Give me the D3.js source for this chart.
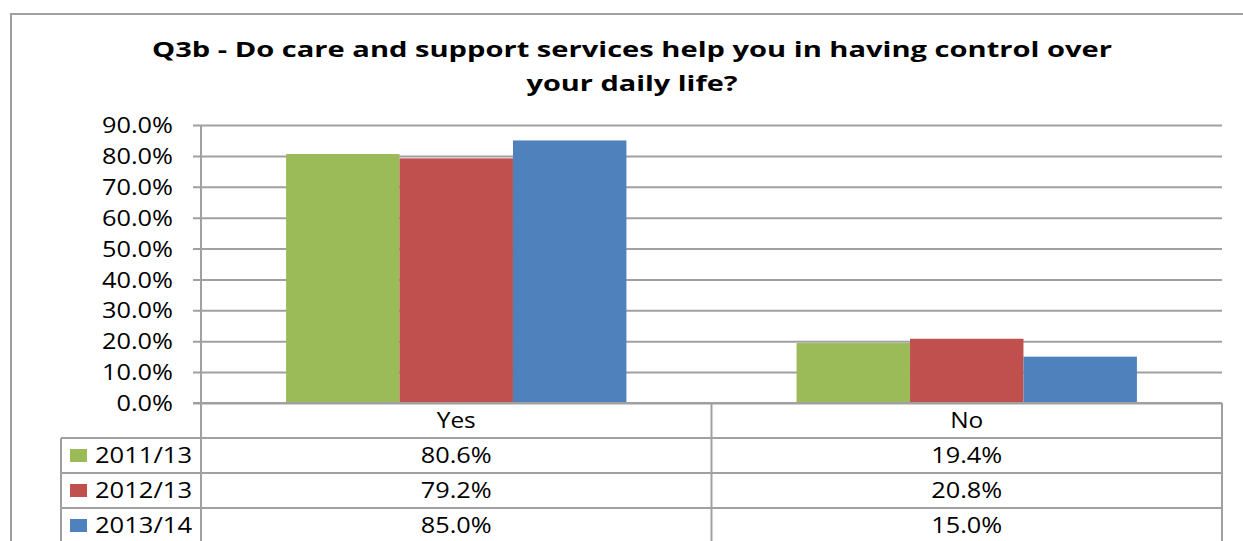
<!DOCTYPE html>
<html><head><meta charset="utf-8">
<script src="https://cdn.jsdelivr.net/npm/d3@7"></script>
<style>html,body{margin:0;padding:0;background:#fff;} svg{display:block;}</style>
</head><body>
<svg id="c" width="1243" height="541"></svg>
<script>
const categories = ["Yes", "No"];
const seriesNames = ["2011/13", "2012/13", "2013/14"];
const series2011 = [0.806, 0.194];
const series2012 = [0.792, 0.208];
const series2013 = [0.850, 0.150];
const seriesColors = ["#9BBB59", "#C0504D", "#4F81BD"];
const yTicks = [0, 0.1, 0.2, 0.3, 0.4, 0.5, 0.6, 0.7, 0.8, 0.9];
const titleLines = ["Q3b - Do care and support services help you in having control over", "your daily life?"];

const seriesValues = [series2011, series2012, series2013];
const svg = d3.select("#c");
const font = "'Open Sans', sans-serif";
const grid = "#a0a0a0";
const titleWidths = [960, 211];

// stretch a text selection horizontally so a reference string would measure refWidth
function stretch(sel, refWidth, refText) {
  const probe = svg.append("text").attr("font-family", font).attr("font-size", sel.attr("font-size"))
    .text(refText);
  const k = refWidth / probe.node().getComputedTextLength();
  probe.remove();
  sel.each(function () {
    const w = this.getComputedTextLength();
    d3.select(this).attr("textLength", w * k).attr("lengthAdjust", "spacingAndGlyphs");
  });
}

// outer chart border
svg.append("rect").attr("x", 11).attr("y", 14).attr("width", 1260).attr("height", 560)
  .attr("fill", "none").attr("stroke", grid).attr("stroke-width", 2);

// title
svg.append("g").selectAll("text").data(titleLines).join("text")
  .attr("x", 632).attr("y", (d, i) => 57 + i * 34)
  .attr("text-anchor", "middle").attr("font-family", font).attr("font-weight", "bold")
  .attr("font-size", 21).attr("fill", "#000")
  .attr("textLength", (d, i) => titleWidths[i]).attr("lengthAdjust", "spacingAndGlyphs")
  .text(d => d);

const pL = 201, pR = 1222, pT = 125, pB = 403;
const y = d3.scaleLinear().domain([0, 0.9]).range([pB, pT]);
const x = d3.scaleBand().domain(categories).range([pL, pR]).paddingInner(0).paddingOuter(0);
const groupW = x.bandwidth() * 3 / 4.5;
const x1 = d3.scaleBand().domain(d3.range(seriesNames.length)).range([0, groupW]);

// gridlines + ticks
const yAxis = d3.axisLeft(y).tickValues(yTicks).tickFormat(d3.format(".1%"))
  .tickSize(-(pR - pL)).tickSizeOuter(0).tickPadding(20);
const ga = svg.append("g").attr("transform", `translate(${pL},0)`).call(yAxis);
ga.select(".domain").remove();
ga.selectAll(".tick line").attr("stroke", grid).attr("stroke-width", 2).attr("x1", -8);
const tickTexts = ga.selectAll(".tick text").attr("font-family", font).attr("font-size", 21).attr("fill", "#000")
  .attr("x", -28).attr("dy", "0.36em");
stretch(tickTexts, 71, "90.0%");

// bars
const bars = svg.append("g");
seriesValues.forEach((vals, si) => {
  bars.selectAll(null).data(vals).join("rect")
    .attr("x", (d, i) => x(categories[i]) + (x.bandwidth() - groupW) / 2 + x1(si))
    .attr("y", d => y(d)).attr("width", x1.bandwidth()).attr("height", d => pB - y(d))
    .attr("fill", seriesColors[si]);
});

// y axis line
svg.append("line").attr("x1", pL).attr("x2", pL).attr("y1", pT).attr("y2", 560)
  .attr("stroke", grid).attr("stroke-width", 2);
// x axis line
svg.append("line").attr("x1", pL - 8).attr("x2", pR).attr("y1", pB).attr("y2", pB)
  .attr("stroke", grid).attr("stroke-width", 2);

// data table
const rowH = 35;
const tableLeft = 61;
const tbl = svg.append("g");
const rowTop = i => pB + rowH * (i + 1);
categories.forEach((c, i) => {
  if (i > 0) tbl.append("line").attr("x1", x(c)).attr("x2", x(c)).attr("y1", pB).attr("y2", 560)
    .attr("stroke", grid).attr("stroke-width", 2);
});
tbl.append("line").attr("x1", pR).attr("x2", pR).attr("y1", pB).attr("y2", 560)
  .attr("stroke", grid).attr("stroke-width", 2);
tbl.append("line").attr("x1", tableLeft).attr("x2", tableLeft).attr("y1", rowTop(0)).attr("y2", 560)
  .attr("stroke", grid).attr("stroke-width", 2);
d3.range(seriesNames.length + 1).forEach(i => {
  tbl.append("line").attr("x1", tableLeft).attr("x2", pR).attr("y1", rowTop(i)).attr("y2", rowTop(i))
    .attr("stroke", grid).attr("stroke-width", 2);
});
const hdr = tbl.selectAll(".hdr").data(categories).join("text").attr("class", "hdr")
  .attr("x", d => x(d) + x.bandwidth() / 2).attr("y", pB + 25)
  .attr("text-anchor", "middle").attr("font-family", font).attr("font-size", 21).text(d => d);
stretch(hdr, 39, "Yes");
const fmt = d3.format(".1%");
seriesNames.forEach((s, si) => {
  const yt = rowTop(si);
  tbl.append("rect").attr("x", 70).attr("y", yt + 11).attr("width", 17).attr("height", 13)
    .attr("fill", seriesColors[si]);
  tbl.append("text").attr("x", 95).attr("y", yt + 25).attr("font-family", font).attr("font-size", 22)
    .attr("textLength", 97).attr("lengthAdjust", "spacingAndGlyphs").text(s);
  const vt = tbl.selectAll(null).data(seriesValues[si]).join("text")
    .attr("x", (d, i) => x(categories[i]) + x.bandwidth() / 2).attr("y", yt + 25)
    .attr("text-anchor", "middle").attr("font-family", font).attr("font-size", 21).text(d => fmt(d));
  stretch(vt, 71, "80.6%");
});
</script>
</body></html>
